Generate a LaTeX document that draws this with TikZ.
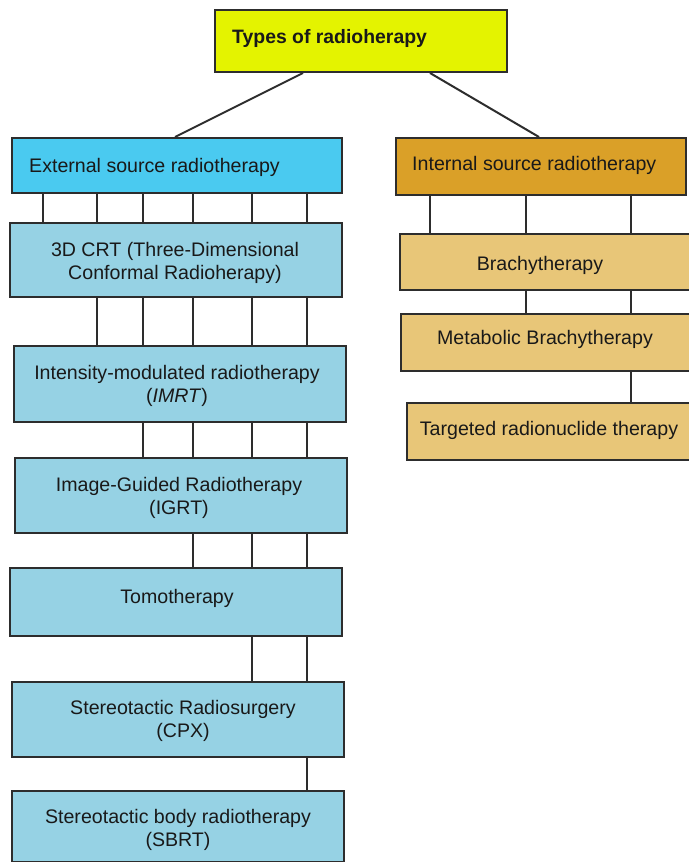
\documentclass[tikz,border=0pt]{standalone}
\usepackage{fontspec}
\setmainfont{Liberation Sans}
\definecolor{ctop}{RGB}{228,243,0}
\definecolor{cext}{RGB}{74,202,240}
\definecolor{clb}{RGB}{150,210,228}
\definecolor{cint}{RGB}{218,160,40}
\definecolor{ctan}{RGB}{232,198,120}
\definecolor{cline}{RGB}{45,45,45}
\tikzset{
  boxshape/.style={draw=cline, line width=2pt, inner sep=0pt, rectangle},
  lbl/.style={font=\fontsize{19.6}{22.5}\selectfont, align=center, inner sep=0pt, text=black!90, yshift=-2pt},
  conn/.style={draw=cline, line width=2pt}
}
\newcommand{\mybox}[6]{%
  \node[boxshape, fill=#6, minimum width={(#4)-(#2)}, minimum height={(#5)-(#3)}]
    (#1) at ({((#2)+(#4))/2}, {((#3)+(#5))/2}) {};}
\begin{document}
\begin{tikzpicture}[x=1pt, y=-1pt]
\useasboundingbox (0,0) rectangle (688,862);
\fill[white] (0,0) rectangle (688,862);
% boxes
\mybox{top}{215}{10}{507}{72}{ctop}
\mybox{ext}{12}{138}{342}{193}{cext}
\mybox{int}{396}{138}{686}{195}{cint}
\mybox{crt}{10}{223}{342}{297}{clb}
\mybox{imrt}{14}{346}{346}{422}{clb}
\mybox{igrt}{15}{458}{347}{533}{clb}
\mybox{tomo}{10}{568}{342}{636}{clb}
\mybox{cpx}{12}{682}{344}{757}{clb}
\mybox{sbrt}{12}{791}{344}{862}{clb}
\mybox{brachy}{400}{234}{692}{290}{ctan}
\mybox{meta}{401}{314}{692}{371}{ctan}
\mybox{targ}{407}{403}{692}{460}{ctan}
% labels
\node[lbl, anchor=west, font=\fontsize{19.4}{22}\selectfont\bfseries] (ttop) at (232,36) {Types of radioherapy};
\node[lbl, anchor=west] (text) at (29,165) {External source radiotherapy};
\node[lbl, anchor=west] (tint) at (412,163) {Internal source radiotherapy};
\node[lbl] (tcrt) at (175,261) {3D CRT (Three-Dimensional\\Conformal Radioherapy)};
\node[lbl] (timrt) at (177,384) {Intensity-modulated radiotherapy\\(\textit{IMRT})};
\node[lbl] (tigrt) at (179,496) {Image-Guided Radiotherapy\\(IGRT)};
\node[lbl] (ttomo) at (177,596) {Tomotherapy};
\node[lbl] (tcpx) at (183,719) {Stereotactic Radiosurgery\\(CPX)};
\node[lbl] (tsbrt) at (178,828) {Stereotactic body radiotherapy\\(SBRT)};
\node[lbl] (tbr) at (540,263) {Brachytherapy};
\node[lbl] (tmeta) at (545,337) {Metabolic Brachytherapy};
\node[lbl] (ttarg) at (549,428) {Targeted radionuclide therapy};
% connectors from top
\draw[conn] (303,0 |- top.south) -- (175,0 |- ext.north);
\draw[conn] (430,0 |- top.south) -- (539,0 |- int.north);
% external side
\foreach \xx in {43,97,143,193,252,307}
  \draw[conn] (\xx,0 |- ext.south) -- (\xx,0 |- crt.north);
\foreach \xx in {97,143,193,252,307}
  \draw[conn] (\xx,0 |- crt.south) -- (\xx,0 |- imrt.north);
\foreach \xx in {143,193,252,307}
  \draw[conn] (\xx,0 |- imrt.south) -- (\xx,0 |- igrt.north);
\foreach \xx in {193,252,307}
  \draw[conn] (\xx,0 |- igrt.south) -- (\xx,0 |- tomo.north);
\foreach \xx in {252,307}
  \draw[conn] (\xx,0 |- tomo.south) -- (\xx,0 |- cpx.north);
\draw[conn] (307,0 |- cpx.south) -- (307,0 |- sbrt.north);
% internal side
\foreach \xx in {430,526,631}
  \draw[conn] (\xx,0 |- int.south) -- (\xx,0 |- brachy.north);
\foreach \xx in {526,631}
  \draw[conn] (\xx,0 |- brachy.south) -- (\xx,0 |- meta.north);
\draw[conn] (631,0 |- meta.south) -- (631,0 |- targ.north);
\end{tikzpicture}
\end{document}
